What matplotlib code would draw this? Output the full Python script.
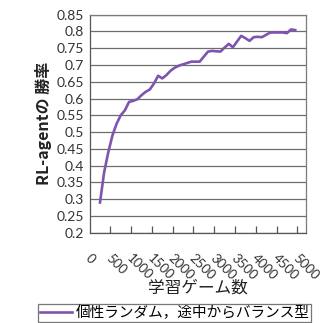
import numpy as np
import matplotlib.pyplot as plt
from matplotlib.ticker import FixedLocator

# win rate of the RL agent, sampled every 100 training games
games = [200, 300, 400, 500, 600, 700, 800, 900, 1000, 1100, 1200, 1300,
         1400, 1500, 1600, 1700, 1800, 1900, 2000, 2100, 2200, 2300, 2400,
         2500, 2600, 2700, 2800, 2900, 3000, 3100, 3200, 3300, 3400, 3500,
         3600, 3700, 3800, 3900, 4000, 4100, 4200, 4300, 4400, 4500, 4600,
         4700, 4800, 4900]
win_rate = [0.29, 0.38, 0.44, 0.49, 0.525, 0.55, 0.565, 0.59, 0.593, 0.598,
            0.61, 0.62, 0.627, 0.645, 0.668, 0.66, 0.67, 0.683, 0.692, 0.698,
            0.702, 0.706, 0.71, 0.71, 0.71, 0.725, 0.74, 0.742, 0.741, 0.74,
            0.752, 0.763, 0.753, 0.77, 0.787, 0.78, 0.772, 0.783, 0.784,
            0.783, 0.79, 0.797, 0.797, 0.797, 0.797, 0.795, 0.806, 0.804]
series_name = '個性ランダム，途中からバランス型'
yticks = [0.2, 0.25, 0.3, 0.35, 0.4, 0.45, 0.5, 0.55, 0.6, 0.65, 0.7, 0.75,
          0.8, 0.85]
xticks = [0, 500, 1000, 1500, 2000, 2500, 3000, 3500, 4000, 4500, 5000]

jp = ['Noto Sans CJK JP', 'DejaVu Sans']
num_font = 'Lato'
purple = '#7D55AF'

fig = plt.figure(figsize=(3.2, 3.23), dpi=100)
ax = fig.add_axes([0.280, 0.2796, 0.675, 0.6749])

ax.plot(games, win_rate, color=purple, lw=1.9, label=series_name,
        solid_joinstyle='round', zorder=3)

ax.set_ylim(0.2, 0.85)
ax.set_yticks(yticks)
ax.set_yticklabels([f'{v:g}' for v in yticks], fontname=num_font,
                   fontsize=10, color='#333333')
ax.tick_params(axis='y', length=0, pad=4)
for v in yticks:
    ax.axhline(v, color='#6e6e6e', lw=0.9, zorder=1)

# category-style axis: 52 slots of 100 games, marks every 5 slots
ax.set_xlim(-50, 5150)
ax.set_xticks(xticks)
ax.xaxis.set_minor_locator(FixedLocator(np.arange(450, 5000, 500)))
ax.set_xticklabels([str(v) for v in xticks], fontname=num_font, fontsize=9.5,
                   color='#333333', rotation=-45, ha='left', va='top',
                   rotation_mode='anchor')
ax.tick_params(axis='x', which='major', length=0, pad=14)
ax.tick_params(axis='x', which='minor', length=5, width=0.9,
               direction='in', color='#555555')

for s in ax.spines.values():
    s.set_color('#7a7a7a')
    s.set_linewidth(0.9)
ax.spines['left'].set_color('#555555')
ax.spines['bottom'].set_color('#555555')

ax.set_ylabel('RL-agentの 勝率', family=jp, fontsize=11.5, fontweight='bold',
              color='#222222', labelpad=3)
ax.set_xlabel('学習ゲーム数', family=jp, fontsize=12, color='#222222',
              labelpad=-2)

leg = fig.legend(loc='lower left', bbox_to_anchor=(0.119, 0.003),
                 prop={'family': jp, 'size': 10.5}, frameon=True,
                 fancybox=False, handlelength=2.2, handletextpad=0.3,
                 borderpad=0.1, borderaxespad=0)
leg.get_frame().set_edgecolor('#555555')
leg.get_frame().set_linewidth(0.9)

fig.savefig('out.png', dpi=100)
